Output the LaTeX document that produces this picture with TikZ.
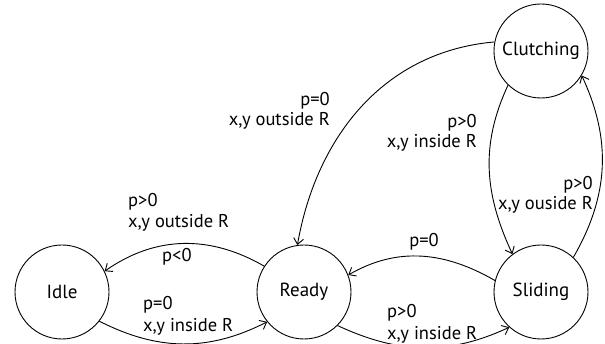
\documentclass[tikz,border=0pt]{standalone}
\usepackage{fontspec}
\setmainfont{PT Sans}
\usetikzlibrary{arrows.meta}
\begin{document}
\begin{tikzpicture}[x=1pt,y=-1pt,
  state/.style={draw,circle,minimum size=94pt,inner sep=0pt,line width=0.9pt,font=\fontsize{19}{22}\selectfont},
  edge/.style={line width=0.9pt,-{Straight Barb[length=6pt,width=10pt]}},
  lbl/.style={inner sep=0pt,font=\fontsize{18.5}{22}\selectfont}]
\useasboundingbox (0,0) rectangle (605,344);
\node[state] (idle) at (62,292) {Idle};
\node[state] (ready) at (304,292) {Ready};
\node[state] (slide) at (541,292) {Sliding};
\node[state] (clutch) at (541,51) {Clutching};
\draw[edge] (ready.147) to[out=150,in=35] (idle.26);
\draw[edge] (idle.-38) to[out=-27,in=-153] (ready.-141);
\draw[edge] (slide.166) to[out=150,in=30] (ready.21);
\draw[edge] (ready.-45) to[out=-25,in=-155] (slide.-132);
\draw[edge] (clutch.-134) to[out=-115,in=115] (slide.127);
\draw[edge] (slide.47) to[out=60,in=-65] (clutch.-31);
\draw[edge] (clutch.169) to[out=185,in=80] (ready.98);
\node[lbl,anchor=base east] (l1a) at (330,106) {p=0};
\node[lbl,anchor=base east] (l1b) at (330,126) {x,y outside R};
\node[lbl,anchor=base east] (l2a) at (477,128) {p>0};
\node[lbl,anchor=base east] (l2b) at (477,148) {x,y inside R};
\node[lbl,anchor=base east] (l3a) at (593,190) {p>0};
\node[lbl,anchor=base east] (l3b) at (593,210) {x,y ouside R};
\node[lbl,anchor=base] (l4) at (424,247) {p=0};
\node[lbl,anchor=base west] (l5a) at (387,318) {p>0};
\node[lbl,anchor=base west] (l5b) at (387,340) {x,y inside R};
\node[lbl,anchor=base west] (l6a) at (128,207) {p>0};
\node[lbl,anchor=base west] (l6b) at (128,228) {x,y outside R};
\node[lbl,anchor=base west] (l7) at (162,262) {p<0};
\node[lbl,anchor=base west] (l8a) at (143,310) {p=0};
\node[lbl,anchor=base west] (l8b) at (143,332) {x,y inside R};
\end{tikzpicture}
\end{document}
